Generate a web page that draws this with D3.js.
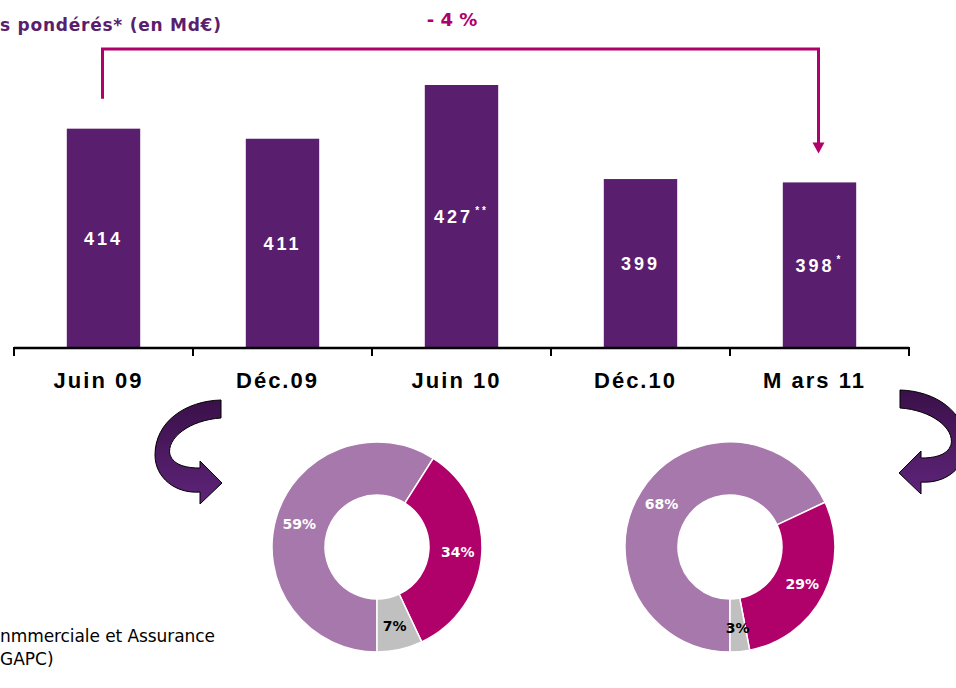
<!DOCTYPE html>
<meta charset="utf-8">
<script src="https://d3js.org/d3.v7.min.js"></script>
<style>
  body { margin: 0; background: #fff; }
</style>
<div id="my_dataviz"></div>
<script>

// data
var periods = ["Juin 09", "Déc.09", "Juin 10", "Déc.10", "M ars 11"];
var values = [414, 411, 427, 399, 398];
var notes = ["", "", "**", "", "*"];
var segments = ["nmmerciale et Assurance", "BFI", "GAPC)"];
var sharesJuin09 = [59, 34, 7];
var sharesMars11 = [68, 29, 3];
var variation = "- 4 %";
var title = "s pondérés* (en Md€)";

var purple = "#5a1e6e", magenta = "#b0006a";
var segColor = d3.scaleOrdinal().domain(segments).range(["#a678ab", magenta, "#c0c0c0"]);
var segText = d3.scaleOrdinal().domain(segments).range(["#fff", "#fff", "#000"]);

var svg = d3.select("#my_dataviz")
    .append("svg")
    .attr("width", 956)
    .attr("height", 688);

// title (the slide shows it cut at the left edge)
svg.append("text")
    .attr("x", 0).attr("y", 31)
    .attr("textLength", 221)
    .attr("lengthAdjust", "spacing")
    .style("font-family", "DejaVu Sans")
    .style("font-weight", "bold")
    .style("font-size", "17px")
    .style("fill", purple)
    .text(title);

// scales
var x = d3.scaleBand()
    .domain(periods)
    .range([14, 909])
    .paddingInner(0.59)
    .paddingOuter(0.295);

var y = d3.scaleLinear()
    .domain([349, 427])
    .range([347, 85]);

// bars
svg.append("g").selectAll("rect")
    .data(values)
    .enter().append("rect")
    .attr("x", function(d, i) { return x(periods[i]); })
    .attr("y", function(d) { return y(d); })
    .attr("width", x.bandwidth())
    .attr("height", function(d) { return y.range()[0] - y(d); })
    .style("fill", purple);

// values inside the bars
var lab = svg.append("g").selectAll("text")
    .data(values)
    .enter().append("text")
    .attr("x", function(d, i) { return x(periods[i]) + x.bandwidth() / 2; })
    .attr("y", function(d) { return (y(d) + y.range()[0]) / 2 + 7; })
    .attr("text-anchor", "middle")
    .style("font-family", "Liberation Sans")
    .style("font-weight", "bold")
    .style("font-size", "18px")
    .style("letter-spacing", "3px")
    .style("fill", "#fff");
lab.append("tspan").text(function(d) { return d; });
lab.append("tspan")
    .attr("dy", -9)
    .attr("dx", function(d, i) { return notes[i] ? 2 : 0; })
    .style("font-size", "10px")
    .text(function(d, i) { return notes[i]; });

// axis
var axisY = y.range()[0];
var tickXs = d3.range(periods.length + 1).map(function(i) { return 14 + i * (895 / periods.length); });
svg.append("line")
    .attr("x1", 14).attr("x2", 909)
    .attr("y1", axisY + 1).attr("y2", axisY + 1)
    .style("stroke", "#000").style("stroke-width", 2.5);
svg.append("g").selectAll("line")
    .data(tickXs)
    .enter().append("line")
    .attr("x1", function(d) { return d; }).attr("x2", function(d) { return d; })
    .attr("y1", axisY).attr("y2", axisY + 9)
    .style("stroke", "#000").style("stroke-width", 2);

svg.append("g").selectAll("text")
    .data(periods)
    .enter().append("text")
    .attr("x", function(d) { return x(d) + x.bandwidth() / 2 - 5; })
    .attr("y", 388)
    .attr("text-anchor", "middle")
    .style("font-family", "Liberation Sans")
    .style("font-weight", "bold")
    .style("font-size", "22px")
    .style("letter-spacing", "2px")
    .style("fill", "#000")
    .text(function(d) { return d; });

// variation bracket
var x0 = x(periods[0]) + x.bandwidth() / 2 - 1;
var x1 = x(periods[periods.length - 1]) + x.bandwidth() / 2 - 1;
var yL = y(values[0]) - 30, yR = y(values[values.length - 1]) - 30;
svg.append("path")
    .attr("d", "M" + x0 + "," + yL + " V49 H" + x1 + " V" + (yR - 9))
    .style("fill", "none")
    .style("stroke", magenta)
    .style("stroke-width", 3);
svg.append("path")
    .attr("d", "M" + (x1 - 6) + "," + (yR - 10) + " L" + (x1 + 6) + "," + (yR - 10) + " L" + x1 + "," + (yR + 1) + " Z")
    .style("fill", magenta);
svg.append("text")
    .attr("x", 452).attr("y", 26)
    .attr("text-anchor", "middle")
    .style("font-family", "DejaVu Sans")
    .style("font-weight", "bold")
    .style("font-size", "18px")
    .style("fill", magenta)
    .text(variation);

// curved arrows
var defs = svg.append("defs");
var grad = defs.append("linearGradient")
    .attr("id", "arrowGrad")
    .attr("x1", 0).attr("y1", 0).attr("x2", 0).attr("y2", 1);
grad.append("stop").attr("offset", "0%").attr("stop-color", "#3a1049");
grad.append("stop").attr("offset", "100%").attr("stop-color", "#5e2479");

var arrowPath = "M221,400 L221,418 C190,420 166,438 170,455 C174,466 188,468 200,468 " +
    "L200,461 L222,483 L200,504 L200,492 C176,494 155,478 155,455 C155,422 185,401 221,400 Z";
svg.append("path")
    .attr("d", arrowPath)
    .style("fill", "url(#arrowGrad)")
    .style("stroke", "#000").style("stroke-width", 1);
svg.append("path")
    .attr("d", arrowPath)
    .attr("transform", "translate(1121,-10) scale(-1,1)")
    .style("fill", "url(#arrowGrad)")
    .style("stroke", "#000").style("stroke-width", 1);

// donuts
var pie = d3.pie().sort(null)
    .startAngle(Math.PI).endAngle(3 * Math.PI)
    .value(function(d) { return d.v; });
var arc = d3.arc().innerRadius(52).outerRadius(105);
var labelArc = d3.arc().innerRadius(81).outerRadius(81);

function drawDonut(cx, cy, shares) {
    var data = shares.map(function(v, i) { return { name: segments[i], v: v }; });
    var g = svg.append("g").attr("transform", "translate(" + cx + "," + cy + ")");
    var arcs = pie(data);
    g.selectAll("path")
        .data(arcs)
        .enter().append("path")
        .attr("d", arc)
        .style("fill", function(d) { return segColor(d.data.name); })
        .style("stroke", "#fff")
        .style("stroke-width", 1.5);
    g.selectAll("text")
        .data(arcs)
        .enter().append("text")
        .attr("transform", function(d) { return "translate(" + labelArc.centroid(d) + ")"; })
        .attr("dy", "0.35em")
        .attr("text-anchor", "middle")
        .style("font-family", "DejaVu Sans")
        .style("font-weight", "bold")
        .style("font-size", "14px")
        .style("fill", function(d) { return segText(d.data.name); })
        .text(function(d) { return d.data.v + "%"; });
}
drawDonut(377, 547, sharesJuin09);
drawDonut(730, 547, sharesMars11);

// legend text (the slide shows it cut at the left edge)
svg.append("text")
    .attr("x", 0).attr("y", 642)
    .attr("textLength", 215)
    .attr("lengthAdjust", "spacing")
    .style("font-family", "DejaVu Sans")
    .style("font-size", "17px")
    .style("fill", "#000")
    .text(segments[0]);
svg.append("text")
    .attr("x", 0).attr("y", 665)
    .style("font-family", "DejaVu Sans")
    .style("font-size", "17px")
    .style("fill", "#000")
    .text(segments[2]);

</script>
